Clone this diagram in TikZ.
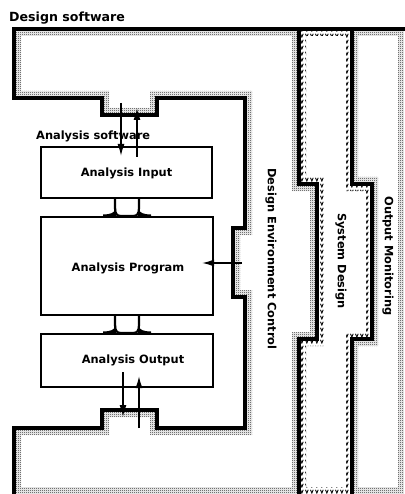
\documentclass[tikz,border=0pt]{standalone}
\usepackage{fontspec}
\setmainfont{DejaVu Sans}
\usetikzlibrary{patterns.meta,arrows.meta}

\tikzdeclarepattern{
  name=stipdots, type=uncolored,
  bounding box={(0pt,0pt) and (2pt,2pt)},
  tile size={(2pt,2pt)},
  code={\pgfpathrectangle{\pgfpointorigin}{\pgfpoint{1pt}{1pt}}
        \pgfpathrectangle{\pgfpoint{1pt}{1pt}}{\pgfpoint{1pt}{1pt}}
        \pgfusepath{fill}}
}
\tikzdeclarepattern{
  name=vmarks, type=uncolored,
  bounding box={(0pt,0pt) and (5pt,5.5pt)},
  tile size={(5pt,5.5pt)},
  code={\pgfsetlinewidth{1pt}
        \pgfpathmoveto{\pgfpoint{0.6pt}{4.6pt}}
        \pgfpathlineto{\pgfpoint{2.2pt}{1.0pt}}
        \pgfpathlineto{\pgfpoint{3.8pt}{4.6pt}}
        \pgfusepath{stroke}}
}

\tikzset{
  border/.style={line width=3.2pt, line join=miter, line cap=rect},
  boxstyle/.style={draw, line width=2.4pt, rectangle, inner sep=0pt},
  wall/.style={line width=2.2pt},
  arr/.style={line width=1.5pt, -{Latex[length=12pt,width=7pt]}},
  lbl/.style={inner sep=0pt, font=\bfseries\fontsize{11.4}{13}\selectfont},
}

\begin{document}
\begin{tikzpicture}[x=1pt,y=-1pt]
\useasboundingbox (0,0) rectangle (404,494);
\fill[white] (0,0) rectangle (404,494);

% stipple of the Design software band
\fill[pattern=stipdots, pattern color=black!85, even odd rule]
 (14,29) -- (299,29) -- (299,184) -- (317,184) -- (317,339) -- (299,339) -- (299,494) -- (14,494) -- (14,428) -- (102,428) -- (102,410) -- (157,410) -- (157,428) -- (245,428) -- (245,297) -- (233,297) -- (233,228) -- (245,228) -- (245,98) -- (157,98) -- (157,115) -- (102,115) -- (102,98) -- (14,98) -- cycle
 (21,36) -- (292,36) -- (292,191) -- (310,191) -- (310,332) -- (292,332) -- (292,487) -- (21,487) -- (21,435) -- (109,435) -- (109,417) -- (150,417) -- (150,435) -- (252,435) -- (252,290) -- (240,290) -- (240,235) -- (252,235) -- (252,91) -- (150,91) -- (150,108) -- (109,108) -- (109,91) -- (21,91) -- cycle;

% v marks of the System Design band
\fill[pattern=vmarks, pattern color=black, even odd rule]
 (299,29) -- (352,29) -- (352,184) -- (372,184) -- (372,339) -- (352,339) -- (352,494) -- (299,494) -- (299,339) -- (317,339) -- (317,184) -- (299,184) -- cycle
 (306,36) -- (346,36) -- (346,191) -- (366,191) -- (366,332) -- (346,332) -- (346,487) -- (306,487) -- (306,346) -- (324,346) -- (324,177) -- (306,177) -- cycle;

% stipple of the Output Monitoring band
\fill[pattern=stipdots, pattern color=black!85, even odd rule]
 (352,29) -- (404,29) -- (404,494) -- (352,494) -- (352,339) -- (372,339) -- (372,184) -- (352,184) -- cycle
 (358,36) -- (398,36) -- (398,487) -- (358,487) -- (358,346) -- (378,346) -- (378,177) -- (358,177) -- cycle;

% black boundaries
\draw[border] (14,98) -- (14,29) -- (404,29);
\draw[border] (14,98) -- (102,98) -- (102,115) -- (157,115) -- (157,98) -- (245,98) -- (245,228) -- (233,228) -- (233,297) -- (245,297) -- (245,428) -- (157,428) -- (157,410) -- (102,410) -- (102,428) -- (14,428) -- (14,494);
\draw[border] (299,29) -- (299,184) -- (317,184) -- (317,339) -- (299,339) -- (299,494);
\draw[border] (352,29) -- (352,184) -- (372,184) -- (372,339) -- (352,339) -- (352,494);

% analysis boxes
\node[boxstyle, minimum width=171pt, minimum height=51pt] (in) at (126.5,172.5) {};
\node[boxstyle, minimum width=172pt, minimum height=98pt] (prog) at (127,266) {};
\node[boxstyle, minimum width=172pt, minimum height=53pt] (out) at (127,360.5) {};
\node[lbl, anchor=base] (inT) at (126.5,177) {Analysis Input};
\node[lbl, anchor=base] (progT) at (128,271.5) {Analysis Program};
\node[lbl, anchor=base] (outT) at (133,363) {Analysis Output};

% pipes between boxes
\foreach \ya/\yb in {198/216, 315/333}{
  \draw[wall] (115,\ya) -- (115,\yb-8) .. controls (115,\yb-2) and (117,\yb) .. (121,\yb) -- (133,\yb) .. controls (137,\yb) and (139,\yb-2) .. (139,\yb-8) -- (139,\ya);
  \fill (116,\yb-8) .. controls (115,\yb-3) and (110,\yb-1.5) .. (103,\yb-1.5) -- (103,\yb+0.5) -- (116,\yb+0.5) -- cycle;
  \fill (138,\yb-8) .. controls (139,\yb-3) and (144,\yb-1.5) .. (151,\yb-1.5) -- (151,\yb+0.5) -- (138,\yb+0.5) -- cycle;
}

% labels
\node[lbl, anchor=base west, font=\bfseries\fontsize{12.6}{14}\selectfont] (ds) at (9,21.5) {Design software};
\node[lbl, anchor=base west] (as) at (36,140) {Analysis software};
\node[lbl, rotate=-90] (dec) at (271,259) {Design Environment Control};
\node[lbl, rotate=-90] (sd) at (341,261) {System Design};
\node[lbl, rotate=-90] (om) at (388,256) {Output Monitoring};

% arrows
\coordinate (a1s) at (121,103);
\coordinate (a1e) at (121,156);
\coordinate (a2s) at (137,157);
\coordinate (a2e) at (137,108);
\coordinate (a3s) at (123,372);
\coordinate (a3e) at (123,417);
\coordinate (a4s) at (139,428);
\coordinate (a4e) at (139,376);
\coordinate (a5s) at (242,263);
\coordinate (a5e) at (202,263);
\draw[arr] (a1s) -- (a1e);
\draw[arr] (a2s) -- (a2e);
\draw[arr] (a3s) -- (a3e);
\draw[arr] (a4s) -- (a4e);
\draw[arr] (a5s) -- (a5e);
\end{tikzpicture}
\end{document}
